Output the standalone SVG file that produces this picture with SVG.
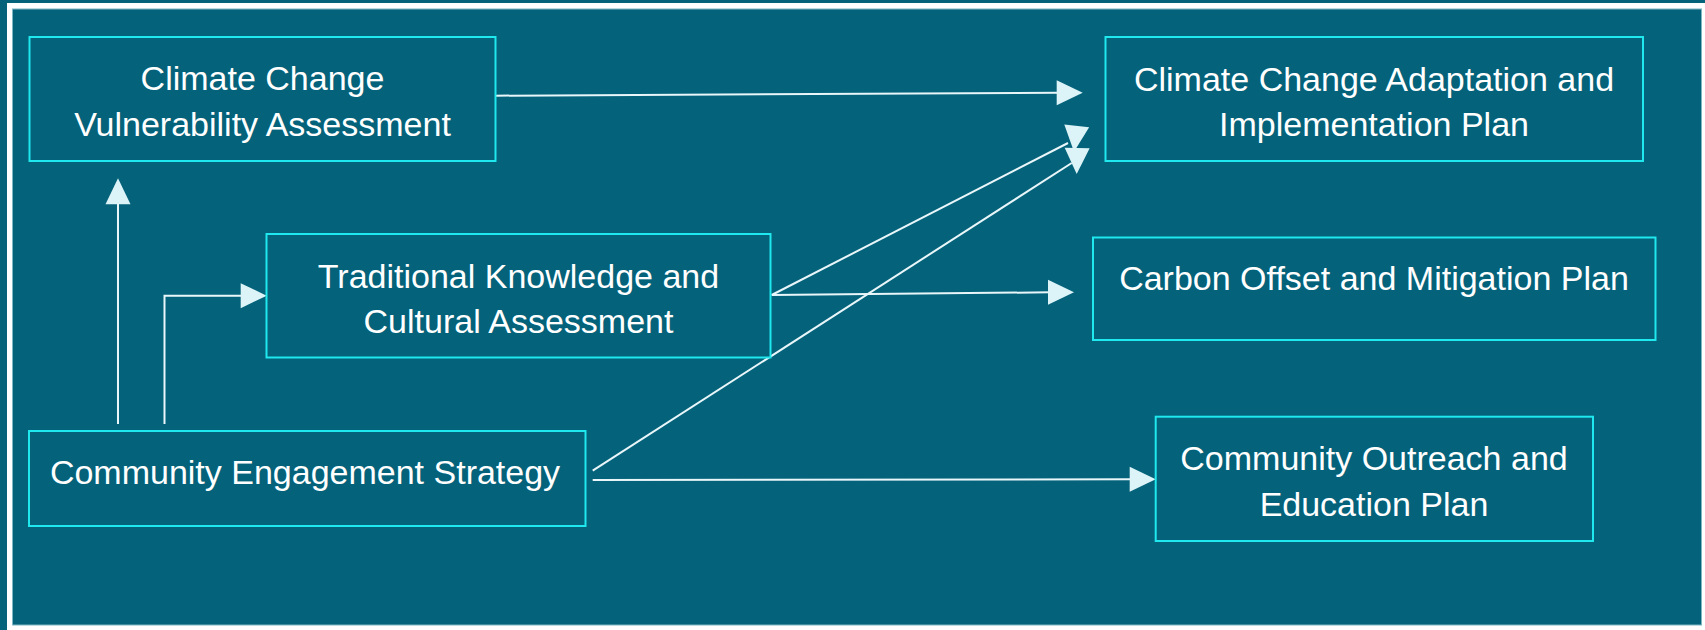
<svg xmlns="http://www.w3.org/2000/svg" width="1705" height="630" viewBox="0 0 1705 630">
  <style>
    .node rect { fill: #04627A; stroke: #1FE8EE; stroke-width: 2; }
    .node text { font-family: "Liberation Sans", Arial, sans-serif; font-size: 34px; fill: #FFFFFF; text-anchor: middle; }
    .conn { stroke: #EAF7FA; stroke-width: 2; fill: none; }
    .head { fill: #DCF3F7; }
  </style>
  <defs>
    <polygon id="ah" points="-26,-12.5 0,0 -26,12.5"/>
  </defs>
  <rect x="0" y="0" width="1705" height="630" fill="#04627A"/>
  <rect x="7" y="3" width="1698" height="627" fill="#FFFFFF"/>
  <rect x="12.5" y="9" width="1689" height="616" fill="#04627A" stroke="#7FB6C4" stroke-width="1"/>

  <g id="connectors">
    <line class="conn" x1="495.5" y1="95.7" x2="1058" y2="92.7"/>
    <use href="#ah" class="head" transform="translate(1082.7,92.7)"/>

    <line class="conn" x1="118" y1="424" x2="118" y2="203"/>
    <use href="#ah" class="head" transform="translate(118,178.3) rotate(-90)"/>

    <polyline class="conn" points="164.5,424 164.5,295.7 242,295.7"/>
    <use href="#ah" class="head" transform="translate(266.7,295.7)"/>

    <line class="conn" x1="771.7" y1="295" x2="1050" y2="292.3"/>
    <use href="#ah" class="head" transform="translate(1074,292.3)"/>

    <line class="conn" x1="771.7" y1="295" x2="1068" y2="143"/>
    <use href="#ah" class="head" transform="translate(1074,151.7) rotate(96)"/>

    <line class="conn" x1="592.7" y1="470.7" x2="1071.7" y2="163"/>
    <use href="#ah" class="head" transform="translate(1076.7,174) rotate(91)"/>

    <line class="conn" x1="592.7" y1="480" x2="1131" y2="479.3"/>
    <use href="#ah" class="head" transform="translate(1155.7,479.3)"/>
  </g>

  <g id="node-vulnerability" class="node">
    <rect x="29.5" y="37" width="466" height="124"/>
    <text x="262.5" y="90">Climate Change</text>
    <text x="262.5" y="136">Vulnerability Assessment</text>
  </g>
  <g id="node-adaptation" class="node">
    <rect x="1105.5" y="37" width="537.5" height="124"/>
    <text x="1374" y="91">Climate Change Adaptation and</text>
    <text x="1374" y="136">Implementation Plan</text>
  </g>
  <g id="node-traditional" class="node">
    <rect x="266.5" y="234" width="504" height="123.5"/>
    <text x="518.5" y="288">Traditional Knowledge and</text>
    <text x="518.5" y="333">Cultural Assessment</text>
  </g>
  <g id="node-carbon" class="node">
    <rect x="1093" y="237.5" width="562.5" height="102.5"/>
    <text x="1374" y="290">Carbon Offset and Mitigation Plan</text>
  </g>
  <g id="node-engagement" class="node">
    <rect x="29" y="431" width="556.5" height="95"/>
    <text x="305" y="484">Community Engagement Strategy</text>
  </g>
  <g id="node-outreach" class="node">
    <rect x="1155.7" y="416.7" width="437.3" height="124.3"/>
    <text x="1374" y="470">Community Outreach and</text>
    <text x="1374" y="516">Education Plan</text>
  </g>
</svg>
